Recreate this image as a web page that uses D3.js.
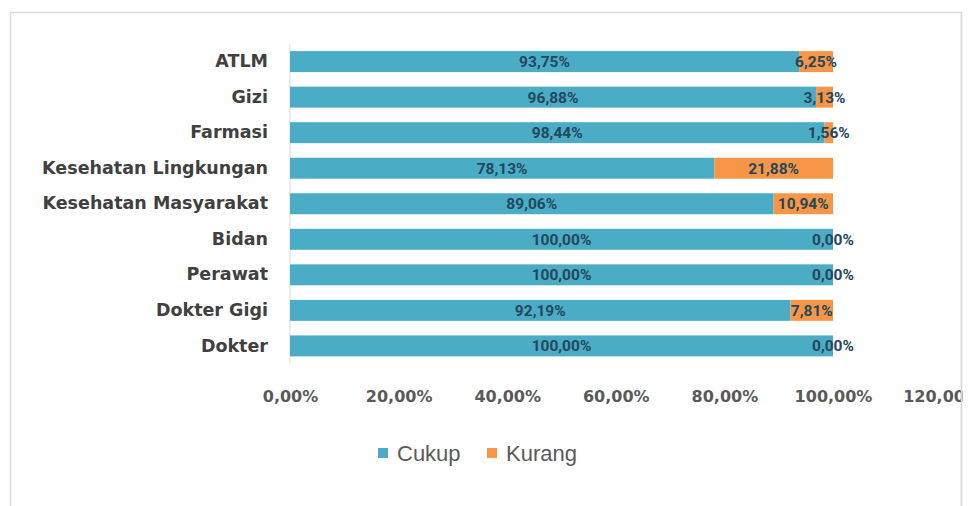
<!DOCTYPE html>
<html><head><meta charset="utf-8">
<script src="https://cdn.jsdelivr.net/npm/d3@7"></script>
<style>body{margin:0;background:#fff}</style>
</head><body>
<svg id="c" width="968" height="506"></svg>
<script>
const categories = ["ATLM","Gizi","Farmasi","Kesehatan Lingkungan","Kesehatan Masyarakat","Bidan","Perawat","Dokter Gigi","Dokter"];
const cukup = [93.75,96.88,98.44,78.13,89.06,100,100,92.19,100];
const kurang = [6.25,3.13,1.56,21.88,10.94,0,0,7.81,0];
const seriesNames = ["Cukup","Kurang"];
const ticks = [0,20,40,60,80,100,120];

const svg = d3.select("#c");
const colors = {Cukup:"#4BACC6", Kurang:"#F79646"};
const fmt = v => v.toFixed(2).replace(".", ",") + "%";

// frame
svg.append("rect").attr("x",10.5).attr("y",12.5).attr("width",951).attr("height",520)
  .attr("fill","#fff").attr("stroke","#d9d9d9").attr("stroke-width",1.5);

const x = d3.scaleLinear().domain([0,120]).range([290,941.6]);
const y = d3.scaleBand().domain(categories).range([44,363.5]).paddingInner(0.41).paddingOuter(0.2);

const g = svg.append("g");
g.append("line").attr("x1",x(0)).attr("x2",x(0)).attr("y1",44).attr("y2",363.5)
  .attr("stroke","#d9d9d9").attr("stroke-width",1);

const rows = categories.map((c,i)=>({c, cukup:cukup[i], kurang:kurang[i]}));
const stack = d3.stack().keys(["cukup","kurang"])(rows);

stack.forEach((layer,li)=>{
  const name = seriesNames[li];
  g.selectAll(null).data(layer).join("rect")
    .attr("x", d=>x(d[0])).attr("width", d=>x(d[1])-x(d[0]))
    .attr("y", d=>y(d.data.c)).attr("height", y.bandwidth())
    .attr("fill", colors[name]);
});
stack.forEach((layer,li)=>{
  g.selectAll(null).data(layer).join("text")
    .attr("x", d=>(x(d[0])+x(d[1]))/2).attr("y", d=>y(d.data.c)+y.bandwidth()/2)
    .attr("dy","0.36em").attr("text-anchor","middle")
    .attr("font-family","'Roboto','Liberation Sans',sans-serif")
    .attr("font-weight","bold").attr("font-size",15.5).attr("fill","#23475c")
    .text(d=>fmt(d.data[layer.key]));
});

// y axis labels
const ya = d3.axisLeft(y).tickSize(0).tickPadding(22);
const yg = svg.append("g").attr("transform",`translate(${x(0)},0)`).call(ya);
yg.select(".domain").remove();
yg.selectAll("text").attr("font-family","'DejaVu Sans',sans-serif").attr("font-weight","bold")
  .attr("font-size",17.5).attr("fill","#404040");

// x axis labels
const xa = d3.axisBottom(x).tickValues(ticks).tickSize(0).tickPadding(0).tickFormat(fmt);
const xg = svg.append("g").attr("transform",`translate(0,391)`).call(xa);
xg.select(".domain").remove();
xg.selectAll("text").attr("font-family","'DejaVu Sans',sans-serif").attr("font-weight","bold")
  .attr("font-size",16).attr("fill","#595959");

// frame right edge clips the last tick label, as in the reference
svg.append("rect").attr("x",962.5).attr("y",0).attr("width",10).attr("height",506).attr("fill","#fff");
svg.append("line").attr("x1",961.5).attr("x2",961.5).attr("y1",12).attr("y2",506).attr("stroke","#d9d9d9").attr("stroke-width",1.5);

// legend
const leg = svg.append("g").attr("transform","translate(378,448)");
const lx = [0,109];
seriesNames.forEach((n,i)=>{
  leg.append("rect").attr("x",lx[i]).attr("y",0).attr("width",10).attr("height",10).attr("fill",colors[n]);
  leg.append("text").attr("x",lx[i]+19).attr("y",5).attr("dy","0.36em")
    .attr("font-family","'Liberation Sans',Arial,sans-serif").attr("font-size",22).attr("fill","#595959").text(n);
});
</script>
</body></html>
